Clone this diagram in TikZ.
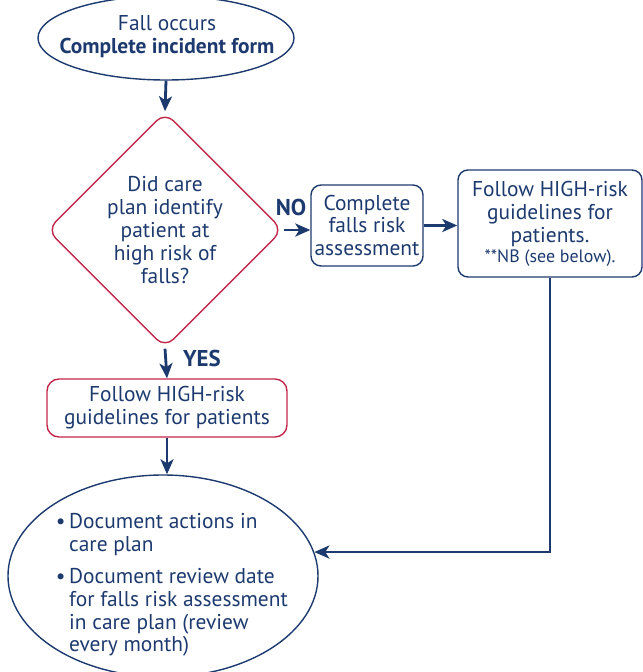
\documentclass[tikz,border=0pt]{standalone}
\usepackage{fontspec}
\setmainfont{PT Sans}
\usetikzlibrary{shapes.geometric,arrows.meta}
\definecolor{navy}{HTML}{1D3A6F}
\definecolor{crim}{HTML}{C3274B}

\begin{document}
\begin{tikzpicture}[x=1bp,y=-1bp,
  font=\fontsize{21.5}{23}\selectfont, text=navy,
  outline/.style={line width=1.4bp, align=center, inner sep=0pt},
  navybox/.style={outline, draw=navy, rounded corners=10bp},
  redbox/.style={outline, draw=crim, rounded corners=12bp},
  oval/.style={outline, ellipse, draw=navy},
  flow/.style={draw=navy, line width=2.8bp, -{Stealth[length=15bp,width=13bp,inset=4bp]}},
  answer/.style={font=\fontsize{23}{23}\selectfont\bfseries}]
\useasboundingbox (0,0) rectangle (643,672);
\clip (0,0) rectangle (643,672);

% start
\node[oval, minimum width=256bp, minimum height=84bp] (start) at (166,38) {};
\node[align=center, inner sep=0pt] (starttext) at (167,37)
  {Fall occurs\\\textbf{Complete incident form}};

% decision
\node[outline, diamond, aspect=1, draw=crim, rounded corners=12bp,
      minimum width=236bp, minimum height=236bp] (dia) at (165,230)
  {Did care\\plan identify\\patient at\\high risk of\\falls?};
\node[answer] (no) at (291,207) {NO};
\node[answer] (yes) at (202,358) {YES};

% right branch
\node[navybox, minimum width=112bp, minimum height=81bp] (assess) at (367,225.5)
  {Complete\\falls risk\\assessment};
\node[navybox, minimum width=184bp, minimum height=107bp] (high2) at (550,223.5)
  {Follow HIGH-risk\\guidelines for\\patients.\\[-3bp]{\fontsize{18}{19}\selectfont **NB (see below).}};

% left branch
\node[redbox, minimum width=240bp, minimum height=58bp] (high1) at (167,408)
  {Follow HIGH-risk\\guidelines for patients};

% end
\node[oval, minimum width=310bp, minimum height=202bp] (end) at (163,576) {};
\node[align=left, anchor=north west, inner sep=0pt] (notes) at (69,513)
  {\llap{\textbullet\,}Document actions in\\care plan\\[9bp]
   \llap{\textbullet\,}Document review date\\for falls risk assessment\\in care plan (review\\every month)};

% connectors
\draw[flow] (start.south) -- (dia.north);
\draw[flow] (dia.east) -- (assess.west |- dia.east);
\draw[flow] (assess.east) -- (high2.west |- assess.east);
\draw[flow] (dia.south) -- (high1.north);
\draw[flow] (high1.south) -- (high1.south |- end.north);
\draw[flow] (high2.south) |- (end.9);
\end{tikzpicture}
\end{document}
